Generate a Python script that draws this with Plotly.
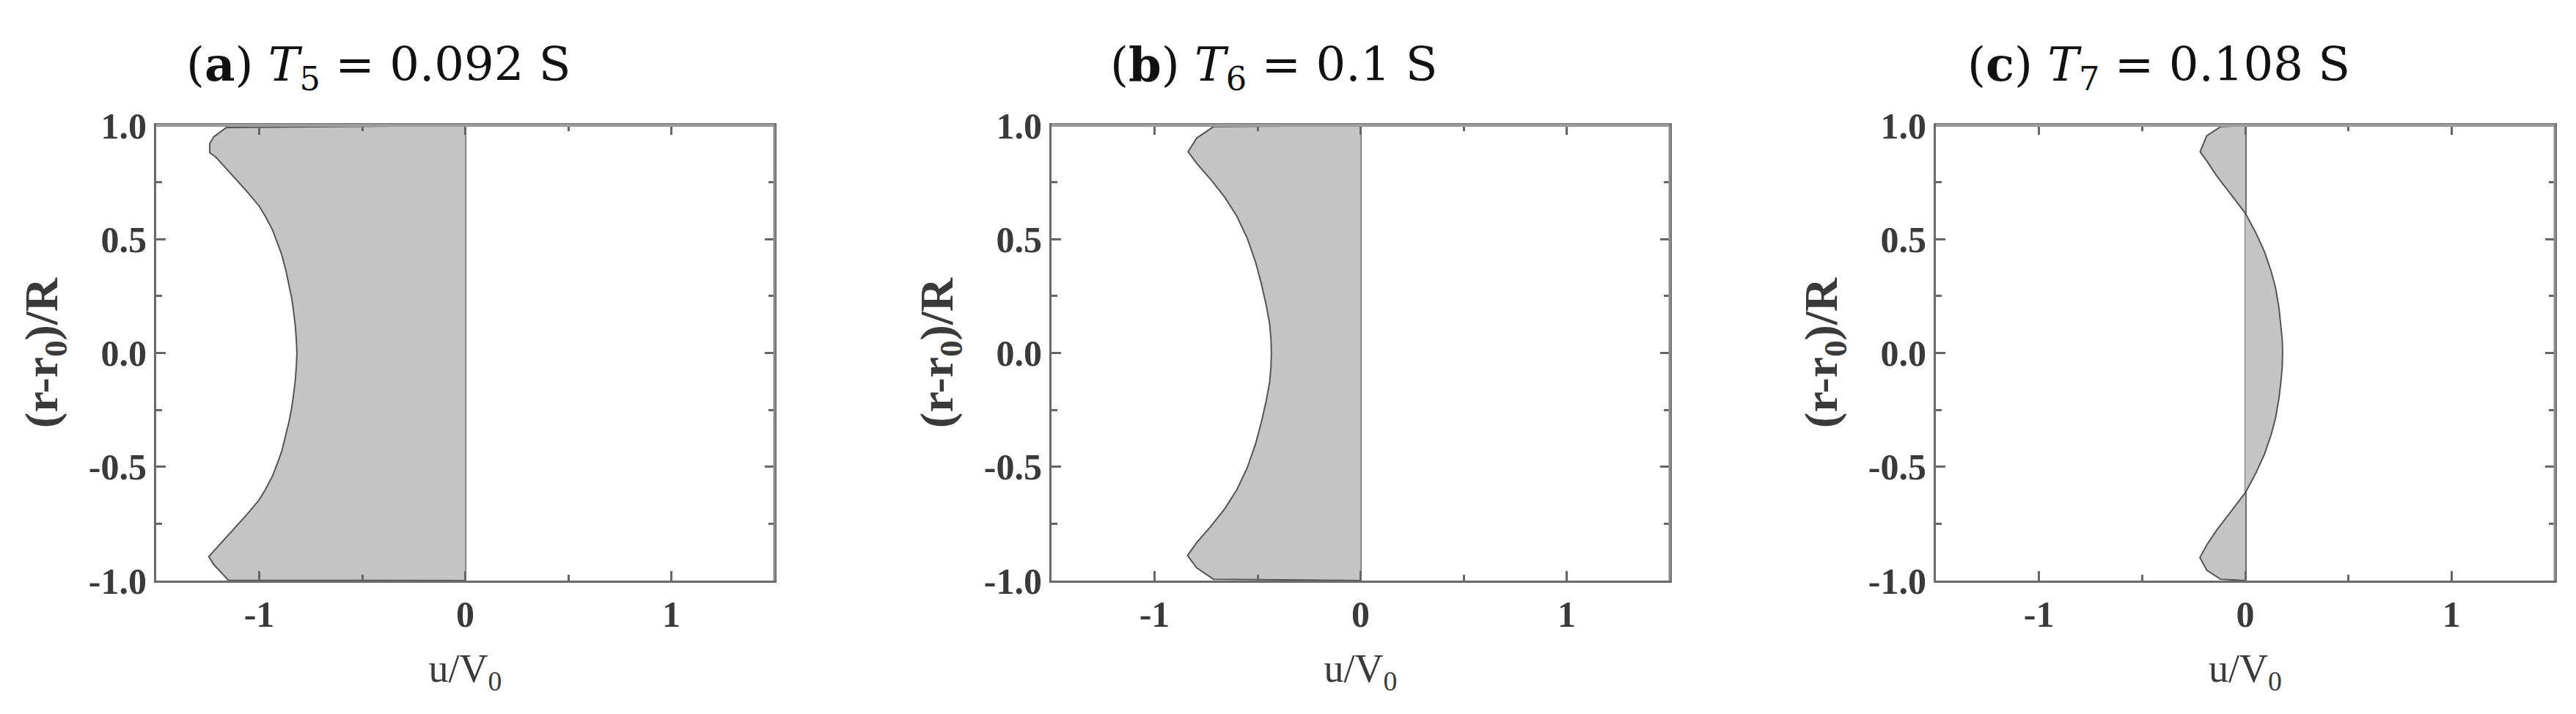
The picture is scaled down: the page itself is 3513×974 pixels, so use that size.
import plotly.graph_objects as go

# ---- data ----
r_a = [1.0, 0.99, 0.95, 0.92, 0.88, 0.86, 0.80, 0.71, 0.645, 0.60, 0.54, 0.48, 0.43, 0.36, 0.30, 0.24, 0.18, 0.12, 0.06, 0.0,
       -0.06, -0.12, -0.18, -0.24, -0.30, -0.36, -0.43, -0.48, -0.54, -0.60, -0.645, -0.71, -0.80, -0.86, -0.895, -0.93, -0.96, -0.998, -1.0]
u_a = [0.0, -1.16, -1.22, -1.24, -1.24, -1.21, -1.15, -1.06, -1.00, -0.97, -0.935, -0.91, -0.89, -0.87, -0.855, -0.842, -0.833, -0.825, -0.82, -0.817,
       -0.82, -0.825, -0.833, -0.842, -0.855, -0.87, -0.89, -0.91, -0.935, -0.97, -1.00, -1.06, -1.15, -1.21, -1.245, -1.22, -1.19, -1.15, 0.0]

r_b = [1.0, 0.994, 0.944, 0.884, 0.834, 0.76, 0.684, 0.60, 0.504, 0.40, 0.305, 0.21, 0.125, 0.06, 0.0,
       -0.06, -0.125, -0.21, -0.305, -0.40, -0.504, -0.60, -0.684, -0.76, -0.834, -0.89, -0.944, -0.994, -1.0]
u_b = [0.0, -0.714, -0.796, -0.837, -0.796, -0.725, -0.659, -0.60, -0.550, -0.510, -0.482, -0.458, -0.441, -0.435, -0.433,
       -0.435, -0.441, -0.458, -0.482, -0.510, -0.550, -0.60, -0.659, -0.725, -0.796, -0.840, -0.796, -0.714, 0.0]

r_c = [1.0, 0.994, 0.954, 0.884, 0.844, 0.78, 0.724, 0.614, 0.53, 0.445, 0.36, 0.285, 0.20, 0.125, 0.06, 0.0,
       -0.06, -0.125, -0.20, -0.285, -0.36, -0.445, -0.53, -0.614, -0.724, -0.78, -0.844, -0.899, -0.954, -0.994, -1.0]
u_c = [0.0, -0.12, -0.187, -0.219, -0.187, -0.14, -0.093, 0.0, 0.05, 0.093, 0.125, 0.147, 0.163, 0.173, 0.179, 0.181,
       0.179, 0.173, 0.163, 0.147, 0.125, 0.093, 0.05, 0.0, -0.093, -0.14, -0.187, -0.22, -0.187, -0.12, 0.0]

panel_titles = ["(<b>a</b>) <i>T</i><sub>5</sub> = 0.092 S",
                "(<b>b</b>) <i>T</i><sub>6</sub> = 0.1 S",
                "(<b>c</b>) <i>T</i><sub>7</sub> = 0.108 S"]

x_tickvals = [-1, 0, 1]
x_ticktext = ["-1", "0", "1"]
x_minorvals = [-0.5, 0.5]
y_tickvals = [1.0, 0.5, 0.0, -0.5, -1.0]
y_ticktext = ["1.0", "0.5", "0.0", "-0.5", "-1.0"]
y_minorvals = [0.75, 0.25, -0.25, -0.75]

x_title = "u/V<sub>0</sub>"
y_title = "(r-r<sub>0</sub>)/R"

# ---- layout geometry ----
W, H = 3513, 974
x_domains = [[205 / W, 1048 / W], [1426 / W, 2269 / W], [2632 / W, 3476 / W]]
y_domain = [1 - 784 / H, 1 - 163 / H]

profiles = [(u_a, r_a), (u_b, r_b), (u_c, r_c)]

fig = go.Figure()
tick_font = dict(family="Liberation Serif", size=50, color="#3a3a3a", weight="bold")
shapes = []
annotations = []

for i, (u, r) in enumerate(profiles):
    n = "" if i == 0 else str(i + 1)
    fig.add_trace(go.Scatter(
        x=u, y=r, mode="lines", fill="tozerox", fillcolor="#c4c4c4",
        line=dict(color="#555555", width=2), xaxis="x" + n, yaxis="y" + n,
        showlegend=False, hoverinfo="skip"))
    fig.layout["xaxis" + n] = dict(
        domain=x_domains[i], range=[-1.5, 1.5], anchor="y" + n, automargin=False,
        tickmode="array", tickvals=x_tickvals, ticktext=x_ticktext,
        ticks="inside", ticklen=13, tickwidth=3, tickcolor="#666666",
        minor=dict(tickmode="array", tickvals=x_minorvals, ticks="inside",
                   ticklen=8, tickwidth=3, tickcolor="#666666", showgrid=False),
        showline=True, linecolor="#6a6a6a", linewidth=3, mirror="ticks",
        zeroline=True, zerolinecolor="#707070", zerolinewidth=3,
        showgrid=False, layer="above traces", tickfont=tick_font,
        title=dict(text=x_title, standoff=28,
                   font=dict(family="Liberation Serif", size=54, color="#3a3a3a")))
    fig.layout["yaxis" + n] = dict(
        domain=y_domain, range=[-1, 1], anchor="x" + n, automargin=False,
        tickmode="array", tickvals=y_tickvals, ticktext=y_ticktext,
        ticks="inside", ticklen=13, tickwidth=3, tickcolor="#666666",
        minor=dict(tickmode="array", tickvals=y_minorvals, ticks="inside",
                   ticklen=8, tickwidth=3, tickcolor="#666666", showgrid=False),
        showline=True, linecolor="#6a6a6a", linewidth=3, mirror="ticks",
        zeroline=False, showgrid=False, layer="above traces", tickfont=tick_font,
        title=dict(text=y_title, standoff=22,
                   font=dict(family="Liberation Serif", size=64, color="#3a3a3a", weight="bold")))
    xr = "x" + n + " domain"
    yr = "y" + n + " domain"
    shapes.append(dict(type="line", xref=xr, yref=yr, x0=0, x1=1, y0=1, y1=1,
                       line=dict(color="#9c9c9c", width=4), layer="above"))
    shapes.append(dict(type="line", xref=xr, yref=yr, x0=1, x1=1, y0=0, y1=1,
                       line=dict(color="#8e8e8e", width=3), layer="above"))
    annotations.append(dict(text=panel_titles[i], xref=xr, yref="paper",
                            x=0.36, y=1 - 84 / H, xanchor="center", yanchor="middle",
                            showarrow=False,
                            font=dict(family="DejaVu Serif", size=64, color="#111111")))

fig.update_layout(width=W, height=H, margin=dict(l=0, r=0, t=0, b=0, autoexpand=False),
                  paper_bgcolor="white", plot_bgcolor="white",
                  shapes=shapes, annotations=annotations, showlegend=False)

fig.write_html("out.html")
